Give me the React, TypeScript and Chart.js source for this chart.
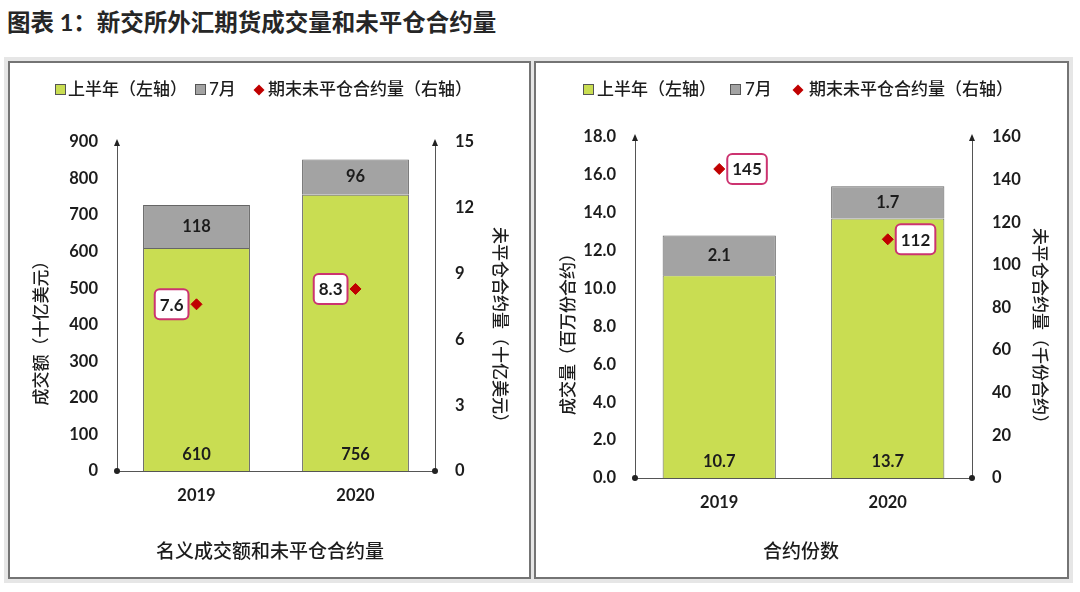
import React, { useEffect, useRef } from "react";
import { Chart, registerables } from "chart.js";
Chart.register(...registerables);

// ---------- data ----------
const years = ["2019", "2020"];
const notionalH1 = [610, 756];
const notionalJuly = [118, 96];
const notionalOI = [7.6, 8.3];
const contractsH1 = [10.7, 13.7];
const contractsJuly = [2.1, 1.7];
const contractsOI = [145, 112];

const legendLabels = ["上半年（左轴）", "7月", "期末未平仓合约量（右轴）"];

// ---------- styles ----------
const GREEN = "#C9DD52";
const GRAY = "#A3A3A3";
const RED = "#C00000";
const PINK = "#CC3370";
const AXIS = "#555555";
const TEXT = "#1c1c1c";
const FONT = "Lato, 'Noto Sans CJK SC', sans-serif";
const CJK = "'Noto Sans CJK SC', sans-serif";

type PanelCfg = {
  left: number; top: number; width: number; height: number;
  h1: number[]; july: number[]; oi: number[];
  yMax: number; yStep: number; yDec: number;
  y1Max: number; y1Step: number;
  barDec: number; oiDec: number; oiSide: "left" | "right";
  leftTitle: string; rightTitle: string; caption: string;
  leftW: number; rightW: number; topPad: number; xH: number;
  legendPos: number[]; // page x of: sq1, text1, sq2, text2, diamond, text3
  legendY: number;
  leftTitleX: number; rightTitleX: number; titleY: number;
  captionX: number; captionY: number;
};

const drawPlugin = (cfg: PanelCfg) => ({
  id: "custom",
  afterDatasetsDraw(chart: any) {
    const ctx = chart.ctx as CanvasRenderingContext2D;
    const area = chart.chartArea;
    const y = chart.scales.y;
    ctx.save();
    // bar labels
    ctx.fillStyle = TEXT;
    ctx.font = `bold 16.5px ${FONT}`;
    ctx.textAlign = "center";
    ctx.textBaseline = "middle";
    const m0 = chart.getDatasetMeta(0);
    m0.data.forEach((el: any, i: number) => {
      ctx.fillText(cfg.h1[i].toFixed(cfg.barDec), el.x, y.getPixelForValue(0) - 16);
    });
    const m1 = chart.getDatasetMeta(1);
    m1.data.forEach((el: any, i: number) => {
      ctx.fillText(cfg.july[i].toFixed(cfg.barDec), el.x, (el.y + el.base) / 2);
    });
    // OI labels boxes
    const m2 = chart.getDatasetMeta(2);
    ctx.font = `bold 17px ${FONT}`;
    m2.data.forEach((el: any, i: number) => {
      const t = cfg.oi[i].toFixed(cfg.oiDec);
      const w = ctx.measureText(t).width + 10;
      const h = 30;
      const bx = cfg.oiSide === "left" ? el.x - 8 - w : el.x + 8;
      const by = el.y - h / 2;
      ctx.beginPath();
      (ctx as any).roundRect(bx, by, w, h, 5);
      ctx.fillStyle = "#ffffff";
      ctx.fill();
      ctx.lineWidth = 2;
      ctx.strokeStyle = PINK;
      ctx.stroke();
      ctx.fillStyle = TEXT;
      ctx.fillText(t, bx + w / 2, el.y + 1);
    });
    // arrows and dots
    ctx.fillStyle = "#222";
    [area.left, area.right].forEach((x: number) => {
      ctx.beginPath();
      ctx.moveTo(x, area.top - 3);
      ctx.lineTo(x - 3, area.top + 4);
      ctx.lineTo(x + 3, area.top + 4);
      ctx.closePath();
      ctx.fill();
      ctx.beginPath();
      ctx.arc(x, area.bottom, 3, 0, Math.PI * 2);
      ctx.fill();
    });
    ctx.restore();
  },
  afterDraw(chart: any) {
    const ctx = chart.ctx as CanvasRenderingContext2D;
    ctx.save();
    const ox = cfg.left, oy = cfg.top;
    // axis titles
    ctx.fillStyle = TEXT;
    ctx.font = `500 17px ${CJK}`;
    ctx.textAlign = "center";
    ctx.textBaseline = "middle";
    ctx.save();
    ctx.translate(cfg.leftTitleX - ox, cfg.titleY - oy);
    ctx.rotate(-Math.PI / 2);
    ctx.fillText(cfg.leftTitle, 0, 0);
    ctx.restore();
    ctx.save();
    ctx.translate(cfg.rightTitleX - ox, cfg.titleY - oy);
    ctx.rotate(Math.PI / 2);
    ctx.fillText(cfg.rightTitle, 0, 0);
    ctx.restore();
    // caption
    ctx.font = `500 19px ${CJK}`;
    ctx.fillText(cfg.caption, cfg.captionX - ox, cfg.captionY - oy);
    // legend
    const ly = cfg.legendY - oy;
    const p = cfg.legendPos.map((v) => v - ox);
    ctx.lineWidth = 1;
    ctx.strokeStyle = "#555";
    ctx.fillStyle = GREEN;
    ctx.fillRect(p[0] + 0.5, ly - 5.5, 10, 10);
    ctx.strokeRect(p[0] + 0.5, ly - 5.5, 10, 10);
    ctx.fillStyle = GRAY;
    ctx.fillRect(p[2] + 0.5, ly - 5.5, 10, 10);
    ctx.strokeRect(p[2] + 0.5, ly - 5.5, 10, 10);
    ctx.fillStyle = RED;
    ctx.beginPath();
    ctx.moveTo(p[4], ly - 5.5);
    ctx.lineTo(p[4] + 5.5, ly);
    ctx.lineTo(p[4], ly + 5.5);
    ctx.lineTo(p[4] - 5.5, ly);
    ctx.closePath();
    ctx.fill();
    ctx.fillStyle = TEXT;
    ctx.font = `500 17px ${FONT}`;
    ctx.textAlign = "left";
    ctx.fillText(legendLabels[0], p[1], ly);
    ctx.fillText(legendLabels[1], p[3], ly);
    ctx.fillText(legendLabels[2], p[5], ly);
    ctx.restore();
  },
});

function Panel({ cfg }: { cfg: PanelCfg }) {
  const ref = useRef<HTMLCanvasElement>(null);
  useEffect(() => {
    if (!ref.current) return;
    const tickFont = { family: FONT, size: 16.5, weight: "bold" as const };
    const chart = new Chart(ref.current, {
      type: "bar",
      data: {
        labels: years,
        datasets: [
          { type: "bar", data: cfg.h1, backgroundColor: GREEN, borderColor: "#666", borderWidth: 1, yAxisID: "y", stack: "s", order: 2, categoryPercentage: 1, barPercentage: 0.672 } as any,
          { type: "bar", data: cfg.july, backgroundColor: GRAY, borderColor: "#666", borderWidth: 1, yAxisID: "y", stack: "s", order: 2, categoryPercentage: 1, barPercentage: 0.672 } as any,
          { type: "line", data: cfg.oi, yAxisID: "y1", showLine: false, pointStyle: "rectRot", pointRadius: 5.5, pointBackgroundColor: RED, pointBorderColor: RED, pointBorderWidth: 1, order: 0 } as any,
        ],
      },
      options: {
        animation: false,
        responsive: false,
        maintainAspectRatio: false,
        layout: { padding: { top: cfg.topPad, left: 0, right: 0, bottom: 0 } },
        plugins: { legend: { display: false }, tooltip: { enabled: false } },
        scales: {
          x: {
            stacked: true,
            grid: { display: false, drawTicks: false },
            border: { display: true, color: AXIS, width: 1 },
            ticks: { font: tickFont, color: TEXT, padding: 15 },
            afterFit: (s: any) => { s.height = cfg.xH; },
          },
          y: {
            stacked: true,
            position: "left",
            min: 0,
            max: cfg.yMax,
            grid: { display: false, drawTicks: false },
            border: { display: true, color: AXIS, width: 1 },
            ticks: { stepSize: cfg.yStep, font: tickFont, color: TEXT, padding: 19, callback: (v: any) => Number(v).toFixed(cfg.yDec) },
            afterFit: (s: any) => { s.width = cfg.leftW; },
          },
          y1: {
            stacked: false,
            position: "right",
            min: 0,
            max: cfg.y1Max,
            grid: { display: false, drawTicks: false },
            border: { display: true, color: AXIS, width: 1 },
            ticks: { stepSize: cfg.y1Step, font: tickFont, color: TEXT, padding: 20 },
            afterFit: (s: any) => { s.width = cfg.rightW; },
          },
        } as any,
      },
      plugins: [drawPlugin(cfg)],
    });
    return () => chart.destroy();
  }, [cfg]);
  return (
    <canvas
      ref={ref}
      width={cfg.width}
      height={cfg.height}
      style={{ position: "absolute", left: cfg.left, top: cfg.top, width: cfg.width, height: cfg.height }}
    />
  );
}

const leftCfg: PanelCfg = {
  left: 10, top: 63, width: 519, height: 514,
  h1: notionalH1, july: notionalJuly, oi: notionalOI,
  yMax: 900, yStep: 100, yDec: 0, y1Max: 15, y1Step: 3,
  barDec: 0, oiDec: 1, oiSide: "left",
  leftTitle: "成交额（十亿美元）", rightTitle: "未平仓合约量（十亿美元）", caption: "名义成交额和未平仓合约量",
  leftW: 107, rightW: 94, topPad: 79, xH: 106,
  legendPos: [55, 68, 195, 209, 259, 268], legendY: 90,
  leftTitleX: 41, rightTitleX: 500, titleY: 329,
  captionX: 270, captionY: 551,
};

const rightCfg: PanelCfg = {
  left: 536, top: 63, width: 531, height: 514,
  h1: contractsH1, july: contractsJuly, oi: contractsOI,
  yMax: 18, yStep: 2, yDec: 1, y1Max: 160, y1Step: 20,
  barDec: 1, oiDec: 0, oiSide: "right",
  leftTitle: "成交量（百万份合约）", rightTitle: "未平仓合约量（千份合约）", caption: "合约份数",
  leftW: 99, rightW: 95, topPad: 74, xH: 99,
  legendPos: [583, 597, 730, 745, 798, 809], legendY: 90,
  leftTitleX: 568, rightTitleX: 1040, titleY: 330,
  captionX: 801, captionY: 551,
};

export default function App() {
  return (
    <div style={{ position: "absolute", left: 0, top: 0, width: 1080, height: 592, background: "#fff", overflow: "hidden" }}>
      <div style={{ position: "absolute", left: 7, top: 8, fontFamily: FONT, fontWeight: 700, fontSize: 23.5, lineHeight: "28px", color: "#262626", whiteSpace: "nowrap" }}>
        图表 1：新交所外汇期货成交量和未平仓合约量
      </div>
      <div style={{ position: "absolute", left: 4, top: 57, width: 1069, height: 526, background: "#e6e6e6" }} />
      <div style={{ position: "absolute", left: 8, top: 61, width: 519, height: 514, background: "#fff", border: "2px solid #747474" }} />
      <div style={{ position: "absolute", left: 534, top: 61, width: 531, height: 514, background: "#fff", border: "2px solid #747474" }} />
      <Panel cfg={leftCfg} />
      <Panel cfg={rightCfg} />
    </div>
  );
}
